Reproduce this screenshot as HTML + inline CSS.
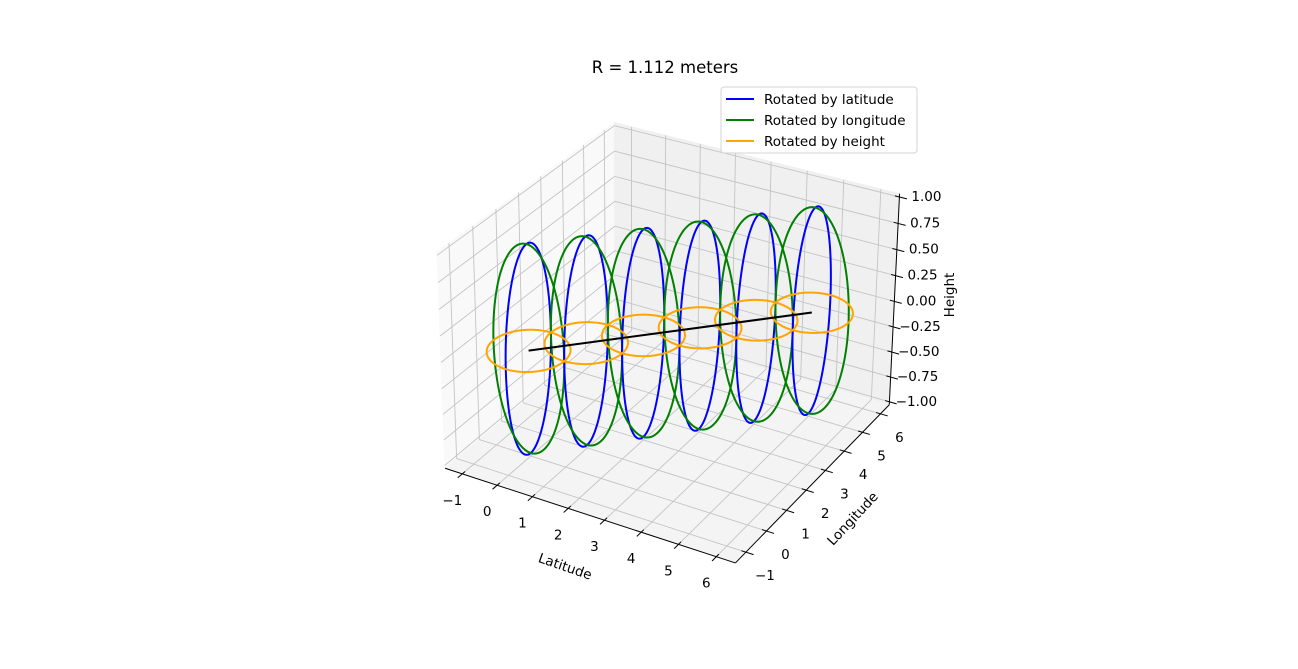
<!DOCTYPE html>
<html><head><meta charset="utf-8"><style>
html,body{margin:0;padding:0;background:#fff;}
svg{display:block;font-family:"DejaVu Sans","Liberation Sans",sans-serif;}
</style></head><body>
<svg id="chart" width="1298" height="669" viewBox="0 0 1298 669" xmlns="http://www.w3.org/2000/svg">
<rect width="1298" height="669" fill="#fff"/>
<g id="panes"></g>
<g id="grid"></g>
<g id="axes"></g>
<g id="series"></g>
<text x="665" y="73" text-anchor="middle" font-size="16.5" fill="#000">R = 1.112 meters</text>
<g>
<rect x="721" y="87" width="196" height="66" rx="3" fill="#fff" fill-opacity="0.8" stroke="#d5d5d5"/>
<g><line x1="726" y1="99" x2="754" y2="99" stroke="blue" stroke-width="2"/><text x="764" y="104" font-size="13.5">Rotated by latitude</text></g>
<g><line x1="726" y1="120" x2="754" y2="120" stroke="green" stroke-width="2"/><text x="764" y="125" font-size="13.5">Rotated by longitude</text></g>
<g><line x1="726" y1="141" x2="754" y2="141" stroke="orange" stroke-width="2"/><text x="764" y="146" font-size="13.5">Rotated by height</text></g>
</g>
</svg>
<script>
// ---- data ----
const centersX = [0, 1, 2, 3, 4, 5];
const centersY = [0, 1, 2, 3, 4, 5];
const centersZ = [0, 0, 0, 0, 0, 0];
const radius = 1;
const xTicks = [-1, 0, 1, 2, 3, 4, 5, 6];
const yTicks = [-1, 0, 1, 2, 3, 4, 5, 6];
const zTicks = [-1, -0.75, -0.5, -0.25, 0, 0.25, 0.5, 0.75, 1];
const zTickLabels = ["\u22121.00", "\u22120.75", "\u22120.50", "\u22120.25", "0.00", "0.25", "0.50", "0.75", "1.00"];
const xTickLabels = ["\u22121", "0", "1", "2", "3", "4", "5", "6"];
const yTickLabels = ["\u22121", "0", "1", "2", "3", "4", "5", "6"];
const xLim = [-1.5, 6.5], yLim = [-1.5, 6.5], zLim = [-1.03, 1.03];

// ---- projection: camera matrix fitted (DLT) to reference calibration points ----
const NS = "http://www.w3.org/2000/svg";
const X0 = xLim[0], X1 = xLim[1], Y0 = yLim[0], Y1 = yLim[1], Z0 = zLim[0], Z1 = zLim[1];
const calib = [
  [[X0, Y0, Z0], [446, 468]], [[X1, Y0, Z0], [735, 563]], [[X1, Y1, Z0], [890, 404]],
  [[X1, Y1, Z1], [899, 195]], [[X0, Y1, Z1], [613, 123]], [[X0, Y0, Z1], [436, 253]],
  [[0, 0, 0], [529, 350]], [[5, 5, 0], [811, 313]], [[0, 0, 1], [528, 242]],
  [[0, 0, -1], [530, 453]], [[5, 5, 1], [817, 207]], [[5, 5, -1], [809, 413]],
  [[-1, Y0, Z0], [462.7, 475]], [[6, Y0, Z0], [715, 557]]
];
function solveCam() {
  const rows = [], rhs = [];
  calib.forEach(c => {
    const [X, Y, Z] = c[0]; const u = c[1][0] / 1000, v = c[1][1] / 1000;
    rows.push([X, Y, Z, 1, 0, 0, 0, 0, -u * X, -u * Y, -u * Z]); rhs.push(u);
    rows.push([0, 0, 0, 0, X, Y, Z, 1, -v * X, -v * Y, -v * Z]); rhs.push(v);
  });
  const n = 11, A = [], b = [];
  for (let i = 0; i < n; i++) {
    A.push(new Array(n).fill(0)); b.push(0);
    for (let r = 0; r < rows.length; r++) {
      b[i] += rows[r][i] * rhs[r];
      for (let j = 0; j < n; j++) A[i][j] += rows[r][i] * rows[r][j];
    }
  }
  for (let c = 0; c < n; c++) {
    let piv = c;
    for (let r = c + 1; r < n; r++) if (Math.abs(A[r][c]) > Math.abs(A[piv][c])) piv = r;
    [A[c], A[piv]] = [A[piv], A[c]]; [b[c], b[piv]] = [b[piv], b[c]];
    for (let r = 0; r < n; r++) {
      if (r === c) continue;
      const f = A[r][c] / A[c][c];
      for (let j = c; j < n; j++) A[r][j] -= f * A[c][j];
      b[r] -= f * b[c];
    }
  }
  return b.map((val, i) => val / A[i][i]);
}
const cam = solveCam();
function P(x, y, z) {
  const h = cam[8] * x + cam[9] * y + cam[10] * z + 1;
  return [1000 * (cam[0] * x + cam[1] * y + cam[2] * z + cam[3]) / h, 1000 * (cam[4] * x + cam[5] * y + cam[6] * z + cam[7]) / h];
}

function mk(tag, attrs, parent) {
  const e = document.createElementNS(NS, tag);
  for (const k in attrs) e.setAttribute(k, attrs[k]);
  parent.appendChild(e);
  return e;
}
function line(parent, a, b, stroke, sw) {
  const p = P(...a), q = P(...b);
  return mk('line', { x1: p[0], y1: p[1], x2: q[0], y2: q[1], stroke: stroke, 'stroke-width': sw }, parent);
}
function poly(pts) { return pts.map(p => P(...p).map(n => n.toFixed(2)).join(',')).join(' '); }

// panes
const panes = document.getElementById('panes');
let pe = mk('polygon', { points: poly([[X0, Y0, Z0], [X0, Y1, Z0], [X0, Y1, Z1], [X0, Y0, Z1]]), fill: '#f9f9f9', stroke: '#f9f9f9' }, panes);


pe = mk('polygon', { points: poly([[X0, Y1, Z0], [X1, Y1, Z0], [X1, Y1, Z1], [X0, Y1, Z1]]), fill: '#f0f0f0', stroke: '#f0f0f0' }, panes);


pe = mk('polygon', { points: poly([[X0, Y0, Z0], [X1, Y0, Z0], [X1, Y1, Z0], [X0, Y1, Z0]]), fill: '#f4f4f4', stroke: '#f4f4f4' }, panes);



// grid
const grid = document.getElementById('grid');
const gc = '#c4c4c4', gw = 0.9;
xTicks.forEach(t => { line(grid, [t, Y0, Z0], [t, Y1, Z0], gc, gw); line(grid, [t, Y1, Z0], [t, Y1, Z1], gc, gw); });
yTicks.forEach(t => { line(grid, [X0, t, Z0], [X1, t, Z0], gc, gw); line(grid, [X0, t, Z0], [X0, t, Z1], gc, gw); });
zTicks.forEach(t => { line(grid, [X0, Y0, t], [X0, Y1, t], gc, gw); line(grid, [X0, Y1, t], [X1, Y1, t], gc, gw); });

// axes
const axes = document.getElementById('axes');
let ax = line(axes, [X0, Y0, Z0], [X1, Y0, Z0], '#000', 1);


ax = line(axes, [X1, Y0, Z0], [X1, Y1, Z0], '#000', 1);


ax = line(axes, [X1, Y1, Z0], [X1, Y1, Z1], '#000', 1);



function label(txt, x, y, name, extra) {
  const t = mk('text', Object.assign({ x: x, y: y, 'font-size': 13.5, 'text-anchor': 'middle', 'dominant-baseline': 'central', fill: '#000' }, extra || {}), axes);
  t.textContent = txt;
  
  
  return t;
}
xTicks.forEach((t, i) => {
  line(axes, [t, Y0 + 0.12, Z0], [t, Y0 - 0.2, Z0], '#000', 1);
  const p = P(t, Y0, Z0);
  label(xTickLabels[i], p[0] - 10, p[1] + 27, 'x-tick-label');
});
yTicks.forEach((t, i) => {
  line(axes, [X1 - 0.12, t, Z0], [X1 + 0.2, t, Z0], '#000', 1);
  const p = P(X1, t, Z0);
  label(yTickLabels[i], p[0] + 19, p[1] + 24, 'y-tick-label');
});
zTicks.forEach((t, i) => {
  line(axes, [X1 - 0.12, Y1, t], [X1 + 0.2, Y1, t], '#000', 1);
  const p = P(X1, Y1, t);
  label(zTickLabels[i], p[0] + 27, p[1], 'z-tick-label');
});
label('Latitude', 565, 567, 'x-axis-title', { transform: 'rotate(19 565 567)' });
label('Longitude', 853, 519, 'y-axis-title', { transform: 'rotate(-47 853 519)' });
label('Height', 950, 295, 'z-axis-title', { transform: 'rotate(-90 950 295)' });

// series
const series = document.getElementById('series');
const N = 160;
function circlePath(fn) {
  let d = '';
  for (let k = 0; k <= N; k++) {
    const a = 2 * Math.PI * k / N;
    const p = P(...fn(a));
    d += (k ? 'L' : 'M') + p[0].toFixed(2) + ',' + p[1].toFixed(2);
  }
  return d;
}
centersX.forEach((cx, i) => {
  const cy = centersY[i], cz = centersZ[i];
  let s = mk('path', { d: circlePath(a => [cx, cy + radius * Math.cos(a), cz + radius * Math.sin(a)]), fill: 'none', stroke: 'blue', 'stroke-width': 2 }, series);
  
  
  s = mk('path', { d: circlePath(a => [cx + radius * Math.cos(a), cy, cz + radius * Math.sin(a)]), fill: 'none', stroke: 'green', 'stroke-width': 2 }, series);
  
  
});
centersX.forEach((cx, i) => {
  const cy = centersY[i], cz = centersZ[i];
  const s = mk('path', { d: circlePath(a => [cx + radius * Math.cos(a), cy + radius * Math.sin(a), cz]), fill: 'none', stroke: 'orange', 'stroke-width': 2 }, series);
  
  
});
const last = centersX.length - 1;
const cl = line(series, [centersX[0], centersY[0], centersZ[0]], [centersX[last], centersY[last], centersZ[last]], '#000', 2);


</script>
</body></html>
